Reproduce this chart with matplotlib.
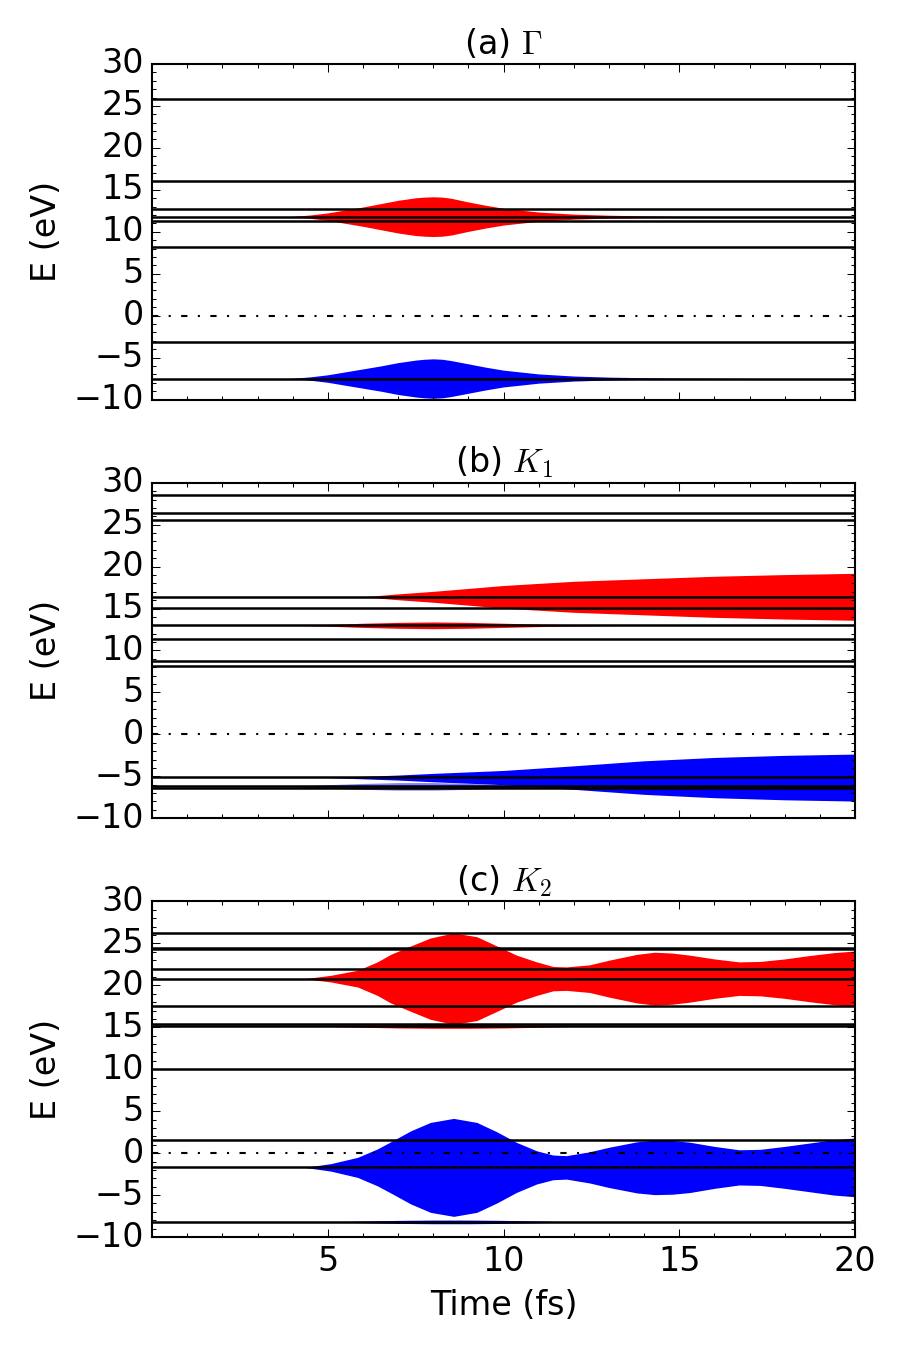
import numpy as np
import matplotlib
matplotlib.use("Agg")
from matplotlib import pyplot as plt
from matplotlib.ticker import MultipleLocator

# energy levels (eV) for each k-point
levels_a = [25.8, 16.0, 12.7, 11.8, 11.3, 8.2, -3.1, -7.5]
levels_b = [28.5, 26.35, 25.6, 16.4, 15.1, 13.0, 11.4, 8.7, 8.1, -5.1, -6.1, -6.4]
levels_c = [26.2, 24.5, 24.3, 22.0, 20.8, 17.5, 15.4, 15.1, 10.0, 1.55, -1.7, -8.2]

# oscillation envelopes: (time, half width) around a centre level
t_a = [3.9, 4.5, 5.0, 5.5, 6.0, 6.5, 7.0, 7.5, 7.75, 8.0, 8.25, 8.5, 9.0, 9.5, 10.0, 11.0, 12.0, 13.0, 14.0, 15.0, 17.3]
red_a = [0, 0.2, 0.45, 0.8, 1.15, 1.55, 1.95, 2.25, 2.33, 2.37, 2.33, 2.2, 1.75, 1.35, 1.0, 0.55, 0.3, 0.17, 0.1, 0.05, 0]
blue_a = [0, 0.2, 0.45, 0.8, 1.15, 1.5, 1.9, 2.2, 2.3, 2.35, 2.3, 2.15, 1.75, 1.35, 1.0, 0.55, 0.3, 0.17, 0.1, 0.05, 0]

t_b_red = [6.0, 7.0, 8.0, 9.0, 10.0, 12.0, 14.0, 16.0, 18.0, 20.0]
red_b = [0, 0.35, 0.65, 1.0, 1.35, 1.85, 2.15, 2.45, 2.65, 2.8]
t_b_red2 = [4.0, 5.0, 6.0, 7.0, 8.0, 9.0, 10.0, 11.0, 12.0, 14.0]
red_b2 = [0, 0.1, 0.25, 0.35, 0.4, 0.35, 0.25, 0.15, 0.08, 0]
t_b_blue = [5.0, 6.0, 7.0, 8.0, 10.0, 12.0, 14.0, 16.0, 18.0, 20.0]
blue_b = [0, 0.15, 0.3, 0.5, 0.85, 1.4, 2.0, 2.4, 2.65, 2.8]
t_b_blue2 = [4.0, 5.0, 6.0, 7.0, 8.0, 9.0, 10.0, 11.0]
blue_b2 = [0, 0.2, 0.35, 0.45, 0.45, 0.35, 0.2, 0]

t_c = [4.34, 5.09, 5.85, 6.41, 6.79, 7.36, 7.92, 8.58, 9.24, 9.81, 10.37, 10.94, 11.41, 11.79,
       12.45, 13.0, 13.8, 14.3, 14.8, 15.3, 16.0, 16.7, 17.3, 18.0, 18.7, 19.4, 20.0]
red_c = [0, 0.4, 1.0, 2.0, 2.9, 3.9, 4.85, 5.45, 5.0, 3.9, 2.8, 2.0, 1.45, 1.4,
         1.65, 2.2, 2.9, 3.15, 3.05, 2.8, 2.35, 2.0, 2.05, 2.35, 2.75, 3.1, 3.3]
blue_c = [0, 0.45, 1.2, 2.2, 3.05, 4.36, 5.36, 5.84, 5.36, 4.24, 2.98, 1.98, 1.47, 1.4,
          1.86, 2.4, 3.05, 3.25, 3.2, 3.0, 2.5, 2.1, 2.15, 2.5, 2.9, 3.3, 3.5]
t_c_small = [5.0, 6.0, 7.0, 8.0, 9.0, 10.0, 11.0, 12.0]
small_c = [0, 0.1, 0.18, 0.22, 0.22, 0.18, 0.1, 0]

plt.style.use('classic')
plt.rcParams['font.size'] = 16

fig, axes = plt.subplots(3, 1, figsize=(6, 9), dpi=150, sharex=True)
fig.subplots_adjust(left=0.169, right=0.95, top=0.9526, bottom=0.0837, hspace=0.248)


def band(ax, t, half, centre, color, alpha=1.0):
    t = np.array(t)
    h = np.array(half)
    ax.fill_between(t, centre - h, centre + h, color=color, lw=0, alpha=alpha)


ax = axes[0]
band(ax, t_a, red_a, 11.8, 'r')
band(ax, t_a, blue_a, -7.5, 'b')
for e in levels_a:
    ax.axhline(e, color='k', lw=1.2)
ax.set_title(r"(a) $\Gamma$", fontsize=16)

ax = axes[1]
band(ax, t_b_red, red_b, 16.4, 'r')
band(ax, t_b_red2, red_b2, 13.0, 'r')
band(ax, t_b_blue, blue_b, -5.15, 'b')
band(ax, t_b_blue2, blue_b2, -6.2, 'b', alpha=0.5)
for e in levels_b:
    ax.axhline(e, color='k', lw=1.2)
ax.set_title(r"(b) $K_1$", fontsize=16)

ax = axes[2]
band(ax, t_c, red_c, 20.8, 'r')
band(ax, t_c, blue_c, -1.7, 'b')
band(ax, t_c_small, small_c, 15.1, 'r')
band(ax, t_c_small, small_c, -8.2, 'b')
for e in levels_c:
    ax.axhline(e, color='k', lw=1.2)
ax.set_title(r"(c) $K_2$", fontsize=16)
ax.set_xlabel("Time (fs)", fontsize=16)

for ax in axes:
    ax.axhline(0, color='k', lw=1, ls='-.')
    ax.set_xlim(0, 20)
    ax.set_ylim(-10, 30)
    ax.set_yticks([-10, -5, 0, 5, 10, 15, 20, 25, 30])
    ax.set_xticks([5, 10, 15, 20])
    ax.xaxis.set_minor_locator(MultipleLocator(1))
    ax.yaxis.set_minor_locator(MultipleLocator(1))
    ax.set_ylabel("E (eV)", fontsize=16)
    ax.tick_params(labelsize=16)

fig.savefig("out.png", dpi=150, facecolor='white')
